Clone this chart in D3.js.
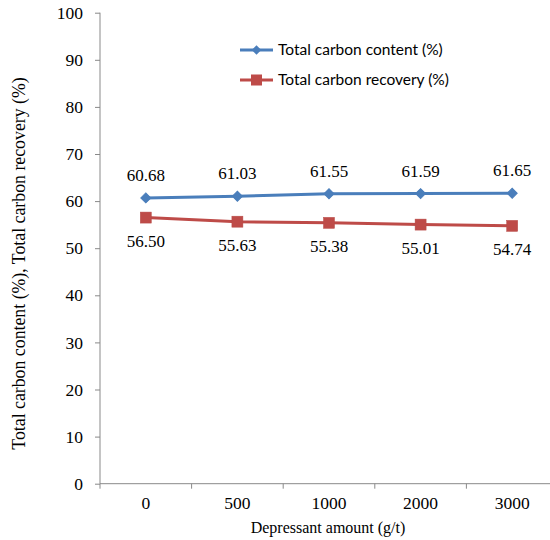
<!DOCTYPE html>
<html><head><meta charset="utf-8">
<script src="https://cdn.jsdelivr.net/npm/d3@7"></script>
<style>body{margin:0;background:#fff}</style>
</head><body>
<svg id="c" width="550" height="540"></svg>
<script>
const categories = ["0","500","1000","2000","3000"];
const contentValues = [60.68, 61.03, 61.55, 61.59, 61.65];
const recoveryValues = [56.50, 55.63, 55.38, 55.01, 54.74];
const yTicks = [0,10,20,30,40,50,60,70,80,90,100];
const seriesNames = ["Total carbon content (%)", "Total carbon recovery (%)"];

const svg = d3.select("#c");
const serif = '"Liberation Serif", "Times New Roman", serif';
const x = d3.scaleBand().domain(categories).range([100, 558]);
const y = d3.scaleLinear().domain([0,100]).range([483.7, 12.7]);
const axisColor = "#898989";

// y axis
const ya = svg.append("g").attr("transform","translate(100,0)")
  .call(d3.axisLeft(y).tickValues(yTicks).tickSize(5).tickPadding(12).tickFormat(d3.format("d")));
ya.attr("font-family",null).attr("font-size",null);
ya.select(".domain").attr("stroke",axisColor).attr("d","M0,12.7V483.7");
ya.selectAll(".tick line").attr("stroke",axisColor);
ya.selectAll("text").style("font-family",serif).style("font-size","17.5px").attr("fill","#000");

// x axis
const xa = svg.append("g").attr("transform","translate(0,483.7)")
  .call(d3.axisBottom(x).tickSize(0).tickPadding(13));
xa.attr("font-family",null).attr("font-size",null);
xa.select(".domain").attr("stroke",axisColor).attr("d","M100,0H558");
xa.selectAll("text").style("font-family",serif).style("font-size","17.5px").attr("fill","#000");
// boundary ticks
const bounds = categories.map(c => x(c)).concat([x.range()[1]]);
xa.selectAll(".btick").data(bounds).enter().append("line").attr("class","btick")
  .attr("x1",d=>d).attr("x2",d=>d).attr("y1",0).attr("y2",5).attr("stroke",axisColor);

const cx = c => x(c) + x.bandwidth()/2;
const line = d3.line().x((d,i)=>cx(categories[i])).y(d=>y(d));

const blue = "#4A7EBB", red = "#BE4B48";
svg.append("path").datum(contentValues).attr("d",line).attr("fill","none").attr("stroke",blue).attr("stroke-width",3);
svg.append("path").datum(recoveryValues).attr("d",line).attr("fill","none").attr("stroke",red).attr("stroke-width",3);

svg.selectAll(".dm").data(contentValues).enter().append("path")
  .attr("d", d3.symbol().type(d3.symbolSquare).size(50))
  .attr("transform",(d,i)=>`translate(${cx(categories[i])},${y(d)}) rotate(45)`)
  .attr("fill",blue).attr("stroke",blue).attr("stroke-width",1);
svg.selectAll(".sq").data(recoveryValues).enter().append("rect")
  .attr("x",(d,i)=>cx(categories[i])-5.5).attr("y",d=>y(d)-5.5)
  .attr("width",11).attr("height",11).attr("fill",red).attr("stroke","#B84A47").attr("stroke-width",0.5);

// data labels
svg.selectAll(".lb").data(contentValues).enter().append("text")
  .attr("x",(d,i)=>cx(categories[i])).attr("y",d=>y(d)-17)
  .attr("text-anchor","middle").style("font-family",serif).style("font-size","17px")
  .text(d=>d.toFixed(2));
svg.selectAll(".lr").data(recoveryValues).enter().append("text")
  .attr("x",(d,i)=>cx(categories[i])).attr("y",d=>y(d)+29)
  .attr("text-anchor","middle").style("font-family",serif).style("font-size","17px")
  .text(d=>d.toFixed(2));

// legend
const lg = svg.append("g");
[[blue,50,"d"],[red,80,"s"]].forEach((s,i)=>{
  lg.append("line").attr("x1",240).attr("x2",273).attr("y1",s[1]).attr("y2",s[1]).attr("stroke",s[0]).attr("stroke-width",3);
  if(s[2]==="d"){
    lg.append("path").attr("d",d3.symbol().type(d3.symbolSquare).size(45)).attr("transform",`translate(256.5,${s[1]}) rotate(45)`).attr("fill",blue);
  } else {
    lg.append("rect").attr("x",251).attr("y",s[1]-5.5).attr("width",11).attr("height",11).attr("fill",red);
  }
  lg.append("text").attr("x",278).attr("y",s[1]+5).style("font-family","Lato, 'Liberation Sans', sans-serif").style("font-size","15.5px").text(seriesNames[i]);
});

// axis titles
svg.append("text").attr("x",328).attr("y",533).attr("text-anchor","middle")
  .style("font-family",serif).style("font-size","16px").text("Depressant amount (g/t)");
svg.append("text").attr("transform","translate(25,263.5) rotate(-90)").attr("text-anchor","middle")
  .style("font-family",serif).style("font-size","17.8px").text("Total carbon content (%), Total carbon recovery (%)");
</script>
</body></html>
